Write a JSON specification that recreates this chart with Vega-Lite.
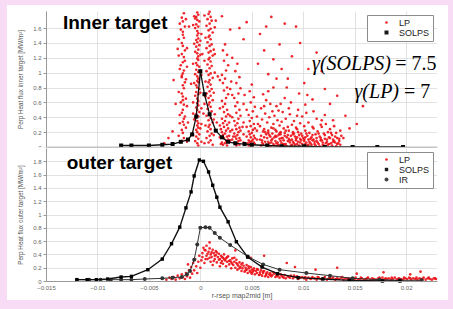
{
"$schema": "https://vega.github.io/schema/vega-lite/v6.json",
"background": "#f8dcf6",
"padding": {"left": 7, "top": 5, "right": 5, "bottom": 9},
"bounds": "flush",
"spacing": 1,
"resolve": {"scale": {"color": "independent", "shape": "independent", "size": "independent"}, "legend": {"color": "independent", "shape": "independent", "size": "independent"}},
"config": {
  "view": {"stroke": null, "fill": "white"},
  "font": "Liberation Sans",
  "axis": {"labelFont": "Liberation Sans", "labelFontSize": 6, "labelColor": "#666", "titleFont": "Liberation Sans", "titleFontSize": 6.3, "titleFontWeight": "normal", "titleColor": "#555", "gridColor": "#dadada", "gridWidth": 0.8, "tickColor": "#999", "domainColor": "#999", "labelOverlap": false},
  "legend": {"orient": "top-right", "offset": 4, "padding": 3, "fillColor": "white", "strokeColor": "#8c8c8c", "labelFontSize": 9, "labelFont": "Liberation Sans", "labelColor": "#222", "symbolOffset": 12, "labelOffset": 8, "rowPadding": 0, "symbolStrokeWidth": 0}
},
"datasets": {
"lpIn": [
{"x":-0.0016,"y":1.8},{"x":-0.0018,"y":1.74},{"x":-0.0017,"y":1.69},{"x":-0.0015,"y":1.62},{"x":-0.0019,"y":1.58},{"x":-0.0017,"y":1.51},{"x":-0.0016,"y":1.47},{"x":-0.0018,"y":1.4},{"x":-0.0017,"y":1.36},{"x":-0.0015,"y":1.3},{"x":-0.0018,"y":1.25},{"x":-0.0016,"y":1.21},{"x":-0.0017,"y":1.14},{"x":-0.0019,"y":1.1},{"x":-0.0016,"y":1.03},{"x":-0.0017,"y":0.99},{"x":-0.0018,"y":0.94},{"x":-0.0015,"y":0.87},{"x":-0.0017,"y":0.83},{"x":-0.0016,"y":0.79},{"x":-0.0018,"y":0.72},{"x":-0.0017,"y":0.68},{"x":-0.0019,"y":0.6},{"x":-0.0016,"y":0.57},{"x":-0.0017,"y":0.5},{"x":-0.0018,"y":0.46},{"x":-0.0015,"y":0.41},{"x":-0.0017,"y":0.34},{"x":-0.0016,"y":0.3},{"x":-0.0018,"y":0.23},{"x":-0.0017,"y":0.19},{"x":-0.0016,"y":0.12},{"x":-0.0018,"y":0.08},{"x":-0.0017,"y":0.63},{"x":-0.0015,"y":1.16},{"x":-0.0018,"y":0.96},{"x":-0.0016,"y":0.38},{"x":-0.0017,"y":1.55},
{"x":-0.0021,"y":1.45},{"x":-0.0013,"y":1.33},{"x":-0.002,"y":1.05},{"x":-0.0014,"y":0.91},{"x":-0.0021,"y":0.74},{"x":-0.0013,"y":0.55},{"x":-0.002,"y":0.43},{"x":-0.0014,"y":0.26},{"x":-0.0021,"y":0.15},{"x":-0.0013,"y":0.07},{"x":-0.002,"y":1.66},{"x":-0.0014,"y":1.72},{"x":-0.0021,"y":1.23},{"x":-0.0013,"y":1.08},{"x":-0.002,"y":0.32},{"x":-0.0014,"y":0.65},
{"x":-0.0003,"y":1.81},{"x":-0.0002,"y":1.78},{"x":-0.0004,"y":1.75},{"x":-0.0003,"y":1.71},{"x":-0.0001,"y":1.69},{"x":-0.0004,"y":1.65},{"x":-0.0002,"y":1.62},{"x":-0.0005,"y":1.6},{"x":-0.0003,"y":1.56},{"x":-0.0002,"y":1.53},{"x":-0.0003,"y":1.5},{"x":-0.0002,"y":1.46},{"x":-0.0004,"y":1.44},{"x":-0.0003,"y":1.41},{"x":-0.0001,"y":1.37},{"x":-0.0004,"y":1.35},{"x":-0.0002,"y":1.31},{"x":-0.0005,"y":1.28},{"x":-0.0003,"y":1.26},{"x":-0.0002,"y":1.22},{"x":-0.0003,"y":1.19},{"x":-0.0002,"y":1.17},{"x":-0.0004,"y":1.13},{"x":-0.0003,"y":1.1},{"x":-0.0001,"y":1.08},{"x":-0.0004,"y":1.04},{"x":-0.0002,"y":1.01},{"x":-0.0005,"y":0.98},{"x":-0.0003,"y":0.95},{"x":-0.0002,"y":0.92},{"x":-0.0003,"y":0.89},{"x":-0.0002,"y":0.87},{"x":-0.0004,"y":0.83},{"x":-0.0003,"y":0.8},{"x":-0.0001,"y":0.78},{"x":-0.0004,"y":0.74},{"x":-0.0002,"y":0.71},{"x":-0.0005,"y":0.69},{"x":-0.0003,"y":0.65},{"x":-0.0002,"y":0.62},{"x":-0.0003,"y":0.59},{"x":-0.0002,"y":0.56},{"x":-0.0004,"y":0.53},{"x":-0.0003,"y":0.5},{"x":-0.0001,"y":0.47},{"x":-0.0004,"y":0.44},{"x":-0.0002,"y":0.41},{"x":-0.0005,"y":0.39},{"x":-0.0003,"y":0.35},{"x":-0.0002,"y":0.32},{"x":-0.0003,"y":0.29},{"x":-0.0002,"y":0.26},{"x":-0.0004,"y":0.23},{"x":-0.0003,"y":0.2},{"x":-0.0001,"y":0.17},{"x":-0.0004,"y":0.14},{"x":-0.0002,"y":0.11},{"x":-0.0005,"y":0.08},{"x":-0.0003,"y":0.05},{"x":-0.0002,"y":0.02},
{"x":-0.0007,"y":1.64},{"x":0.0001,"y":1.52},{"x":-0.0006,"y":1.39},{"x":0.0,"y":1.24},{"x":-0.0007,"y":1.12},{"x":0.0001,"y":0.97},{"x":-0.0006,"y":0.86},{"x":0.0,"y":0.73},{"x":-0.0007,"y":0.6},{"x":0.0001,"y":0.52},{"x":-0.0006,"y":0.37},{"x":0.0,"y":0.25},{"x":-0.0007,"y":0.16},{"x":0.0001,"y":0.07},{"x":-0.0006,"y":1.76},{"x":0.0,"y":1.43},{"x":-0.0007,"y":0.45},{"x":0.0001,"y":0.31},
{"x":0.0009,"y":1.82},{"x":0.0008,"y":1.79},{"x":0.001,"y":1.75},{"x":0.0007,"y":1.72},{"x":0.0011,"y":1.7},{"x":0.0009,"y":1.66},{"x":0.0006,"y":1.63},{"x":0.001,"y":1.59},{"x":0.0008,"y":1.57},{"x":0.0012,"y":1.54},{"x":0.0009,"y":1.5},{"x":0.0008,"y":1.48},{"x":0.001,"y":1.45},{"x":0.0007,"y":1.41},{"x":0.0011,"y":1.38},{"x":0.0009,"y":1.36},{"x":0.0006,"y":1.33},{"x":0.001,"y":1.29},{"x":0.0008,"y":1.27},{"x":0.0012,"y":1.23},{"x":0.0009,"y":1.2},{"x":0.0008,"y":1.18},{"x":0.001,"y":1.15},{"x":0.0007,"y":1.11},{"x":0.0011,"y":1.09},{"x":0.0009,"y":1.06},{"x":0.0006,"y":1.02},{"x":0.001,"y":0.99},{"x":0.0008,"y":0.97},{"x":0.0012,"y":0.93},{"x":0.0009,"y":0.9},{"x":0.0008,"y":0.87},{"x":0.001,"y":0.84},{"x":0.0007,"y":0.81},{"x":0.0011,"y":0.78},{"x":0.0009,"y":0.75},{"x":0.0006,"y":0.72},{"x":0.001,"y":0.69},{"x":0.0008,"y":0.66},{"x":0.0012,"y":0.63},{"x":0.0009,"y":0.6},{"x":0.0008,"y":0.57},{"x":0.001,"y":0.54},{"x":0.0007,"y":0.51},{"x":0.0011,"y":0.48},{"x":0.0009,"y":0.45},{"x":0.0006,"y":0.42},{"x":0.001,"y":0.39},{"x":0.0008,"y":0.36},{"x":0.0012,"y":0.33},{"x":0.0009,"y":0.3},{"x":0.0008,"y":0.27},{"x":0.001,"y":0.24},{"x":0.0007,"y":0.21},{"x":0.0011,"y":0.18},{"x":0.0009,"y":0.15},{"x":0.0006,"y":0.12},{"x":0.001,"y":0.09},{"x":0.0008,"y":0.06},{"x":0.0012,"y":0.03},
{"x":0.0004,"y":1.77},{"x":0.0014,"y":1.61},{"x":0.0005,"y":1.47},{"x":0.0013,"y":1.31},{"x":0.0004,"y":1.16},{"x":0.0014,"y":1.0},{"x":0.0005,"y":0.88},{"x":0.0013,"y":0.73},{"x":0.0004,"y":0.58},{"x":0.0014,"y":0.44},{"x":0.0005,"y":0.29},{"x":0.0013,"y":0.16},{"x":0.0004,"y":0.05},{"x":0.0014,"y":1.25},{"x":0.0005,"y":0.68},{"x":0.0013,"y":0.37},
{"x":0.0024,"y":1.38},{"x":0.0022,"y":1.3},{"x":0.0026,"y":1.24},{"x":0.0023,"y":1.16},{"x":0.0027,"y":1.1},{"x":0.0025,"y":1.03},{"x":0.0021,"y":0.97},{"x":0.0024,"y":0.92},{"x":0.0022,"y":0.86},{"x":0.0026,"y":0.8},{"x":0.0023,"y":0.76},{"x":0.0027,"y":0.71},{"x":0.0025,"y":0.66},{"x":0.0021,"y":0.62},{"x":0.0024,"y":0.58},{"x":0.0022,"y":0.54},{"x":0.0026,"y":0.5},{"x":0.0023,"y":0.47},{"x":0.0027,"y":0.44},{"x":0.0025,"y":0.41},{"x":0.0021,"y":0.38},{"x":0.0024,"y":0.35},{"x":0.0022,"y":0.32},{"x":0.0026,"y":0.3},{"x":0.0023,"y":0.27},{"x":0.0027,"y":0.25},{"x":0.0025,"y":0.22},{"x":0.0021,"y":0.2},{"x":0.0024,"y":0.18},{"x":0.0022,"y":0.16},{"x":0.0026,"y":0.14},{"x":0.0023,"y":0.12},{"x":0.0027,"y":0.1},{"x":0.0025,"y":0.08},{"x":0.0021,"y":0.06},{"x":0.0024,"y":0.05},{"x":0.0022,"y":0.03},{"x":0.0026,"y":0.02},
{"x":0.0019,"y":0.9},{"x":0.0029,"y":0.78},{"x":0.0019,"y":0.52},{"x":0.0029,"y":0.42},{"x":0.0019,"y":0.29},{"x":0.0029,"y":0.21},{"x":0.0019,"y":0.13},{"x":0.0029,"y":0.09},{"x":0.002,"y":0.04},{"x":0.0028,"y":0.33},{"x":0.002,"y":0.24},{"x":0.0028,"y":0.15},
{"x":0.0036,"y":1.12},{"x":0.0034,"y":1.02},{"x":0.0038,"y":0.94},{"x":0.0035,"y":0.86},{"x":0.0039,"y":0.79},{"x":0.0037,"y":0.72},{"x":0.0033,"y":0.66},{"x":0.0036,"y":0.6},{"x":0.0034,"y":0.55},{"x":0.0038,"y":0.5},{"x":0.0035,"y":0.46},{"x":0.0039,"y":0.42},{"x":0.0037,"y":0.38},{"x":0.0033,"y":0.35},{"x":0.0036,"y":0.32},{"x":0.0034,"y":0.29},{"x":0.0038,"y":0.26},{"x":0.0035,"y":0.24},{"x":0.0039,"y":0.22},{"x":0.0037,"y":0.2},{"x":0.0033,"y":0.18},{"x":0.0036,"y":0.16},{"x":0.0034,"y":0.14},{"x":0.0038,"y":0.12},{"x":0.0035,"y":0.11},{"x":0.0039,"y":0.09},{"x":0.0037,"y":0.08},{"x":0.0033,"y":0.06},{"x":0.0036,"y":0.05},{"x":0.0034,"y":0.04},{"x":0.0038,"y":0.03},{"x":0.0035,"y":0.02},
{"x":0.0031,"y":0.7},{"x":0.0042,"y":0.58},{"x":0.0031,"y":0.4},{"x":0.0042,"y":0.33},{"x":0.0031,"y":0.23},{"x":0.0042,"y":0.17},{"x":0.0031,"y":0.1},{"x":0.0042,"y":0.06},{"x":0.0041,"y":0.27},{"x":0.0032,"y":0.14},
{"x":0.005,"y":0.84},{"x":0.0048,"y":0.75},{"x":0.0052,"y":0.67},{"x":0.0049,"y":0.6},{"x":0.0053,"y":0.54},{"x":0.0051,"y":0.48},{"x":0.0047,"y":0.43},{"x":0.005,"y":0.39},{"x":0.0048,"y":0.35},{"x":0.0052,"y":0.31},{"x":0.0049,"y":0.28},{"x":0.0053,"y":0.25},{"x":0.0051,"y":0.23},{"x":0.0047,"y":0.21},{"x":0.005,"y":0.19},{"x":0.0048,"y":0.17},{"x":0.0052,"y":0.15},{"x":0.0049,"y":0.13},{"x":0.0053,"y":0.12},{"x":0.0051,"y":0.1},{"x":0.0047,"y":0.09},{"x":0.005,"y":0.08},{"x":0.0048,"y":0.07},{"x":0.0052,"y":0.06},{"x":0.0049,"y":0.05},{"x":0.0053,"y":0.04},{"x":0.0051,"y":0.03},{"x":0.0047,"y":0.02},
{"x":0.0045,"y":0.5},{"x":0.0055,"y":0.41},{"x":0.0045,"y":0.27},{"x":0.0055,"y":0.22},{"x":0.0045,"y":0.14},{"x":0.0055,"y":0.1},{"x":0.0046,"y":0.05},{"x":0.0056,"y":0.31},
{"x":0.0059,"y":0.02},{"x":0.006,"y":0.06},{"x":0.0058,"y":0.1},{"x":0.0059,"y":0.15},{"x":0.0061,"y":0.21},{"x":0.0058,"y":0.28},{"x":0.006,"y":0.37},{"x":0.0059,"y":0.52},{"x":0.0061,"y":0.71},
{"x":0.0064,"y":0.03},{"x":0.0063,"y":0.07},{"x":0.0065,"y":0.12},{"x":0.0064,"y":0.17},{"x":0.0062,"y":0.24},{"x":0.0065,"y":0.33},{"x":0.0063,"y":0.45},{"x":0.0064,"y":0.63},{"x":0.0066,"y":0.98},
{"x":0.0068,"y":0.01},{"x":0.0067,"y":0.05},{"x":0.0069,"y":0.09},{"x":0.0068,"y":0.14},{"x":0.0066,"y":0.19},{"x":0.0069,"y":0.26},{"x":0.0067,"y":0.4},{"x":0.0068,"y":0.58},
{"x":0.0072,"y":0.02},{"x":0.0071,"y":0.04},{"x":0.0073,"y":0.08},{"x":0.0072,"y":0.13},{"x":0.007,"y":0.18},{"x":0.0073,"y":0.23},{"x":0.0071,"y":0.31},{"x":0.0072,"y":0.42},{"x":0.0074,"y":0.55},{"x":0.0071,"y":0.8},
{"x":0.0076,"y":0.03},{"x":0.0075,"y":0.06},{"x":0.0077,"y":0.11},{"x":0.0076,"y":0.16},{"x":0.0074,"y":0.21},{"x":0.0077,"y":0.29},{"x":0.0075,"y":0.36},{"x":0.0076,"y":0.49},
{"x":0.008,"y":0.02},{"x":0.0079,"y":0.05},{"x":0.0081,"y":0.09},{"x":0.008,"y":0.12},{"x":0.0078,"y":0.17},{"x":0.0081,"y":0.25},{"x":0.0079,"y":0.34},{"x":0.008,"y":0.47},{"x":0.0082,"y":0.66},{"x":0.0079,"y":1.05},
{"x":0.0084,"y":0.01},{"x":0.0083,"y":0.04},{"x":0.0085,"y":0.08},{"x":0.0084,"y":0.13},{"x":0.0082,"y":0.19},{"x":0.0085,"y":0.27},{"x":0.0083,"y":0.38},
{"x":0.0088,"y":0.02},{"x":0.0087,"y":0.06},{"x":0.0089,"y":0.1},{"x":0.0088,"y":0.15},{"x":0.0086,"y":0.22},{"x":0.0089,"y":0.3},{"x":0.0087,"y":0.44},{"x":0.0088,"y":0.6},
{"x":0.0092,"y":0.03},{"x":0.0091,"y":0.05},{"x":0.0093,"y":0.09},{"x":0.0092,"y":0.14},{"x":0.009,"y":0.2},{"x":0.0093,"y":0.26},{"x":0.0091,"y":0.35},
{"x":0.0096,"y":0.02},{"x":0.0095,"y":0.07},{"x":0.0097,"y":0.11},{"x":0.0096,"y":0.16},{"x":0.0094,"y":0.24},{"x":0.0097,"y":0.32},{"x":0.0095,"y":0.5},{"x":0.0096,"y":0.72},
{"x":0.01,"y":0.01},{"x":0.0099,"y":0.04},{"x":0.0101,"y":0.08},{"x":0.01,"y":0.12},{"x":0.0098,"y":0.18},{"x":0.0101,"y":0.28},{"x":0.0099,"y":0.41},
{"x":0.0104,"y":0.02},{"x":0.0103,"y":0.06},{"x":0.0105,"y":0.1},{"x":0.0104,"y":0.15},{"x":0.0102,"y":0.22},{"x":0.0105,"y":0.33},{"x":0.0103,"y":0.46},
{"x":0.0108,"y":0.03},{"x":0.0107,"y":0.05},{"x":0.0109,"y":0.09},{"x":0.0108,"y":0.13},{"x":0.0106,"y":0.19},{"x":0.0109,"y":0.27},
{"x":0.0112,"y":0.02},{"x":0.0111,"y":0.07},{"x":0.0113,"y":0.12},{"x":0.0112,"y":0.17},{"x":0.011,"y":0.25},{"x":0.0113,"y":0.38},
{"x":0.0116,"y":0.01},{"x":0.0115,"y":0.04},{"x":0.0117,"y":0.09},{"x":0.0116,"y":0.14},{"x":0.0114,"y":0.21},{"x":0.0117,"y":0.3},
{"x":0.012,"y":0.02},{"x":0.0119,"y":0.06},{"x":0.0121,"y":0.11},{"x":0.012,"y":0.18},{"x":0.0118,"y":0.27},{"x":0.0121,"y":0.43},
{"x":0.0124,"y":0.03},{"x":0.0123,"y":0.07},{"x":0.0125,"y":0.13},{"x":0.0124,"y":0.2},{"x":0.0122,"y":0.31},
{"x":0.0128,"y":0.02},{"x":0.0127,"y":0.05},{"x":0.0129,"y":0.1},{"x":0.0128,"y":0.16},{"x":0.0126,"y":0.24},{"x":0.0129,"y":0.36},
{"x":0.0132,"y":0.01},{"x":0.0131,"y":0.06},{"x":0.0133,"y":0.12},{"x":0.0132,"y":0.19},{"x":0.013,"y":0.28},
{"x":0.0136,"y":0.03},{"x":0.0135,"y":0.08},{"x":0.0137,"y":0.15},{"x":0.0136,"y":0.22},
{"x":0.0061,"y":0.04},{"x":0.0062,"y":0.13},{"x":0.0066,"y":0.07},{"x":0.0066,"y":0.22},{"x":0.007,"y":0.11},{"x":0.0074,"y":0.05},{"x":0.0074,"y":0.14},{"x":0.0078,"y":0.08},{"x":0.0078,"y":0.2},{"x":0.0082,"y":0.03},{"x":0.0082,"y":0.15},{"x":0.0086,"y":0.11},{"x":0.009,"y":0.07},{"x":0.009,"y":0.17},{"x":0.0094,"y":0.04},{"x":0.0094,"y":0.13},{"x":0.0098,"y":0.09},{"x":0.0102,"y":0.04},{"x":0.0102,"y":0.13},{"x":0.0106,"y":0.07},{"x":0.011,"y":0.1},{"x":0.0114,"y":0.06},{"x":0.0118,"y":0.09},{"x":0.0122,"y":0.05},{"x":0.0126,"y":0.12},{"x":0.013,"y":0.08},{"x":0.0134,"y":0.05},
{"x":0.006,"y":0.09},{"x":0.0063,"y":0.2},{"x":0.0065,"y":0.03},{"x":0.0067,"y":0.16},{"x":0.0069,"y":0.06},{"x":0.0071,"y":0.25},{"x":0.0073,"y":0.15},{"x":0.0075,"y":0.02},{"x":0.0077,"y":0.18},{"x":0.0079,"y":0.12},{"x":0.0081,"y":0.04},{"x":0.0083,"y":0.22},{"x":0.0085,"y":0.16},{"x":0.0087,"y":0.09},{"x":0.0089,"y":0.03},{"x":0.0091,"y":0.18},{"x":0.0093,"y":0.11},{"x":0.0095,"y":0.2},{"x":0.0097,"y":0.06},{"x":0.0099,"y":0.15},{"x":0.0101,"y":0.1},{"x":0.0103,"y":0.18},{"x":0.0105,"y":0.03},{"x":0.0107,"y":0.11},{"x":0.0109,"y":0.16},{"x":0.0111,"y":0.04},{"x":0.0113,"y":0.08},{"x":0.0115,"y":0.18},{"x":0.0117,"y":0.12},{"x":0.0119,"y":0.03},{"x":0.0121,"y":0.16},{"x":0.0123,"y":0.1},{"x":0.0125,"y":0.04},{"x":0.0127,"y":0.19},{"x":0.0129,"y":0.07},{"x":0.0131,"y":0.14},{"x":0.0133,"y":0.04},{"x":0.0135,"y":0.11},{"x":0.0062,"y":0.55},{"x":0.007,"y":0.48},{"x":0.0078,"y":0.58},{"x":0.0086,"y":0.52},{"x":0.0094,"y":0.42},{"x":0.0102,"y":0.57},{"x":0.011,"y":0.48},{"x":0.0118,"y":0.36},{"x":0.0066,"y":0.75},{"x":0.0084,"y":0.8},{"x":0.0104,"y":0.7},{"x":0.0074,"y":0.92},
{"x":-0.0031,"y":0.12},{"x":-0.0027,"y":0.21},{"x":-0.0024,"y":0.58},{"x":-0.0035,"y":0.05},{"x":-0.0022,"y":1.32},{"x":-0.0026,"y":0.9},{"x":-0.0011,"y":1.62},{"x":-0.0009,"y":0.85},{"x":-0.0012,"y":0.33},{"x":0.0002,"y":1.25},{"x":0.0003,"y":0.45},{"x":0.0015,"y":1.7},{"x":0.0017,"y":0.95},{"x":0.0016,"y":0.33},{"x":0.0029,"y":1.58},{"x":0.003,"y":0.88},{"x":0.0031,"y":1.2},{"x":0.0042,"y":1.45},{"x":0.0043,"y":0.7},{"x":0.0045,"y":1.68},{"x":0.0056,"y":1.12},{"x":0.0058,"y":1.52},{"x":0.0062,"y":1.3},{"x":0.0069,"y":1.75},{"x":0.0071,"y":1.18},{"x":0.0077,"y":1.38},{"x":0.0085,"y":0.92},{"x":0.0089,"y":1.22},{"x":0.0093,"y":1.62},{"x":0.0101,"y":0.86},{"x":0.0105,"y":1.05},{"x":0.0109,"y":0.64},{"x":0.0113,"y":1.27},{"x":0.0121,"y":0.78},{"x":0.0126,"y":0.58},{"x":0.0133,"y":0.69},{"x":0.0141,"y":0.42},{"x":0.0145,"y":0.25},{"x":0.0139,"y":0.12},{"x":0.0152,"y":0.31},{"x":0.0038,"y":1.6},{"x":0.0064,"y":1.62},{"x":0.0082,"y":1.66},{"x":0.0097,"y":1.4},{"x":-0.0005,"y":1.73},{"x":0.0021,"y":1.76},{"x":0.0118,"y":1.02},{"x":0.0158,"y":0.55}
],
"solpsIn": [
{"x":-0.0077,"y":0.02},{"x":-0.0067,"y":0.02},{"x":-0.005,"y":0.02},{"x":-0.0037,"y":0.03},{"x":-0.0027,"y":0.04},{"x":-0.0019,"y":0.07},{"x":-0.0012,"y":0.1},{"x":-0.0008,"y":0.17},{"x":-0.0004,"y":0.41},{"x":0.0,"y":1.02},{"x":0.0004,"y":0.71},{"x":0.0009,"y":0.44},{"x":0.0015,"y":0.22},{"x":0.0021,"y":0.13},{"x":0.0027,"y":0.07},{"x":0.0034,"y":0.05},{"x":0.0043,"y":0.04},{"x":0.005,"y":0.03},{"x":0.0065,"y":0.02},{"x":0.0079,"y":0.01},{"x":0.0101,"y":0.01},{"x":0.0121,"y":0.0},{"x":0.0148,"y":0.0},{"x":0.0172,"y":0.0},{"x":0.0197,"y":0.0}
],
"lpOut": [
{"x":-0.0033,"y":0.02},{"x":-0.003,"y":0.05},{"x":-0.0028,"y":0.03},{"x":-0.0026,"y":0.06},{"x":-0.0024,"y":0.02},{"x":-0.0022,"y":0.08},{"x":-0.002,"y":0.04},{"x":-0.0018,"y":0.1},{"x":-0.0017,"y":0.06},{"x":-0.0015,"y":0.03},{"x":-0.0014,"y":0.12},{"x":-0.0013,"y":0.07},{"x":-0.0011,"y":0.16},{"x":-0.001,"y":0.05},{"x":-0.0009,"y":0.21},{"x":-0.0008,"y":0.11},{"x":-0.0007,"y":0.27},{"x":-0.0006,"y":0.16},{"x":-0.0005,"y":0.33},{"x":-0.0004,"y":0.22},{"x":-0.0003,"y":0.12},{"x":-0.0002,"y":0.29},{"x":-0.0001,"y":0.38},{"x":0.0,"y":0.2},
{"x":0.0001,"y":0.31},{"x":0.0002,"y":0.42},{"x":0.0003,"y":0.5},{"x":0.0004,"y":0.27},{"x":0.0005,"y":0.46},{"x":0.0006,"y":0.38},{"x":0.0006,"y":0.53},{"x":0.0007,"y":0.33},{"x":0.0008,"y":0.44},{"x":0.0009,"y":0.49},{"x":0.001,"y":0.29},{"x":0.001,"y":0.4},{"x":0.0011,"y":0.36},{"x":0.0012,"y":0.47},{"x":0.0012,"y":0.24},{"x":0.0013,"y":0.42},{"x":0.0014,"y":0.33},{"x":0.0015,"y":0.39},{"x":0.0015,"y":0.45},{"x":0.0016,"y":0.28},{"x":0.0017,"y":0.36},{"x":0.0018,"y":0.41},{"x":0.0019,"y":0.22},{"x":0.0019,"y":0.33},{"x":0.002,"y":0.38},{"x":0.0021,"y":0.3},{"x":0.0022,"y":0.35},{"x":0.0022,"y":0.26},{"x":0.0023,"y":0.4},{"x":0.0024,"y":0.31},{"x":0.0025,"y":0.22},{"x":0.0025,"y":0.34},{"x":0.0026,"y":0.29},{"x":0.0027,"y":0.37},{"x":0.0028,"y":0.25},{"x":0.0029,"y":0.31},{"x":0.003,"y":0.19},{"x":0.003,"y":0.28},{"x":0.0031,"y":0.34},{"x":0.0032,"y":0.24},{"x":0.0033,"y":0.29},{"x":0.0034,"y":0.2},{"x":0.0035,"y":0.27},{"x":0.0035,"y":0.32},{"x":0.0036,"y":0.17},{"x":0.0037,"y":0.23},{"x":0.0038,"y":0.28},{"x":0.0039,"y":0.21},{"x":0.004,"y":0.15},{"x":0.004,"y":0.25},{"x":0.0041,"y":0.19},{"x":0.0042,"y":0.23},{"x":0.0043,"y":0.14},{"x":0.0044,"y":0.2},{"x":0.0045,"y":0.17},{"x":0.0045,"y":0.24},{"x":0.0046,"y":0.12},{"x":0.0047,"y":0.19},{"x":0.0048,"y":0.15},{"x":0.0049,"y":0.21},{"x":0.005,"y":0.11},{"x":0.005,"y":0.17},{"x":0.0051,"y":0.14},{"x":0.0052,"y":0.19},{"x":0.0053,"y":0.1},{"x":0.0054,"y":0.15},{"x":0.0055,"y":0.12},{"x":0.0056,"y":0.17},{"x":0.0057,"y":0.09},{"x":0.0058,"y":0.13},{"x":0.0059,"y":0.16},{"x":0.006,"y":0.08},{"x":0.0061,"y":0.12},{"x":0.0062,"y":0.15},{"x":0.0063,"y":0.07},{"x":0.0064,"y":0.11},{"x":0.0065,"y":0.13},{"x":0.0066,"y":0.06},{"x":0.0067,"y":0.1},{"x":0.0068,"y":0.12},{"x":0.0069,"y":0.07},{"x":0.007,"y":0.09},{"x":0.0072,"y":0.11},{"x":0.0073,"y":0.06},{"x":0.0074,"y":0.08},{"x":0.0076,"y":0.1},{"x":0.0077,"y":0.05},{"x":0.0079,"y":0.08},{"x":0.008,"y":0.06},{"x":0.0082,"y":0.09},{"x":0.0083,"y":0.04},{"x":0.0085,"y":0.07},{"x":0.0087,"y":0.05},{"x":0.0088,"y":0.08},{"x":0.009,"y":0.04},{"x":0.0092,"y":0.06},{"x":0.0094,"y":0.07},{"x":0.0095,"y":0.03},{"x":0.0097,"y":0.05},{"x":0.0099,"y":0.06},{"x":0.0101,"y":0.04},{"x":0.0103,"y":0.02},{"x":0.0105,"y":0.05},{"x":0.0107,"y":0.03},{"x":0.0109,"y":0.06},{"x":0.0111,"y":0.04},{"x":0.0113,"y":0.02},{"x":0.0115,"y":0.05},{"x":0.0117,"y":0.03},{"x":0.0119,"y":0.04},{"x":0.0121,"y":0.06},{"x":0.0123,"y":0.02},{"x":0.0125,"y":0.04},{"x":0.0127,"y":0.03},{"x":0.0129,"y":0.05},{"x":0.0131,"y":0.02},{"x":0.0133,"y":0.04},{"x":0.0135,"y":0.03},{"x":0.0137,"y":0.05},{"x":0.0139,"y":0.02},{"x":0.0141,"y":0.04},{"x":0.0143,"y":0.03},{"x":0.0145,"y":0.02},{"x":0.0147,"y":0.04},{"x":0.0149,"y":0.03},{"x":0.0151,"y":0.05},{"x":0.0153,"y":0.02},{"x":0.0155,"y":0.03},{"x":0.0157,"y":0.04},{"x":0.0159,"y":0.02},{"x":0.0161,"y":0.03},{"x":0.0163,"y":0.05},{"x":0.0165,"y":0.02},{"x":0.0167,"y":0.04},{"x":0.0169,"y":0.03},{"x":0.0171,"y":0.02},{"x":0.0173,"y":0.04},{"x":0.0175,"y":0.03},{"x":0.0177,"y":0.05},{"x":0.0179,"y":0.02},{"x":0.0181,"y":0.03},{"x":0.0183,"y":0.04},{"x":0.0185,"y":0.02},{"x":0.0187,"y":0.03},{"x":0.0189,"y":0.05},{"x":0.0191,"y":0.02},{"x":0.0193,"y":0.04},{"x":0.0195,"y":0.03},{"x":0.0197,"y":0.02},{"x":0.0199,"y":0.04},{"x":0.0201,"y":0.03},{"x":0.0203,"y":0.05},{"x":0.0205,"y":0.02},{"x":0.0207,"y":0.04},{"x":0.0209,"y":0.03},{"x":0.0211,"y":0.02},{"x":0.0213,"y":0.04},{"x":0.0215,"y":0.03},{"x":0.0217,"y":0.05},{"x":0.0219,"y":0.02},{"x":0.0221,"y":0.04},{"x":0.0223,"y":0.03},{"x":0.0225,"y":0.02},{"x":0.0227,"y":0.04},{"x":0.0229,"y":0.03},
{"x":0.0002,"y":0.36},{"x":0.0004,"y":0.47},{"x":0.0005,"y":0.33},{"x":0.0007,"y":0.41},{"x":0.0009,"y":0.35},{"x":0.0011,"y":0.43},{"x":0.0013,"y":0.3},{"x":0.0014,"y":0.38},{"x":0.0016,"y":0.43},{"x":0.0018,"y":0.32},{"x":0.002,"y":0.27},{"x":0.0021,"y":0.36},{"x":0.0023,"y":0.33},{"x":0.0026,"y":0.36},{"x":0.0028,"y":0.3},{"x":0.0031,"y":0.26},{"x":0.0033,"y":0.35},{"x":0.0036,"y":0.25},{"x":0.0038,"y":0.19},{"x":0.0041,"y":0.27},{"x":0.0044,"y":0.16},{"x":0.0047,"y":0.22},{"x":0.0049,"y":0.13},{"x":0.0052,"y":0.16},{"x":0.0055,"y":0.18},{"x":0.0058,"y":0.1},{"x":0.0061,"y":0.14},{"x":0.0064,"y":0.09},{"x":0.0068,"y":0.09},{"x":0.0071,"y":0.13},{"x":0.0075,"y":0.07},{"x":0.0078,"y":0.1},{"x":0.0081,"y":0.05},{"x":0.0086,"y":0.06},{"x":0.0091,"y":0.08},{"x":0.0096,"y":0.05},{"x":0.0102,"y":0.06},{"x":0.0108,"y":0.04},{"x":0.0114,"y":0.06},{"x":0.012,"y":0.03},{"x":0.0126,"y":0.05},{"x":0.0132,"y":0.03},{"x":0.0138,"y":0.06},{"x":0.0144,"y":0.04},{"x":0.015,"y":0.03},{"x":0.0156,"y":0.05},{"x":0.0162,"y":0.04},{"x":0.0168,"y":0.02},{"x":0.0174,"y":0.05},{"x":0.018,"y":0.04},{"x":0.0186,"y":0.05},{"x":0.0192,"y":0.03},{"x":0.0198,"y":0.05},{"x":0.0204,"y":0.04},{"x":0.021,"y":0.05},{"x":0.0216,"y":0.03},{"x":0.0222,"y":0.05},{"x":0.0228,"y":0.04},
{"x":0.0062,"y":0.38},{"x":0.0084,"y":0.27},{"x":0.0112,"y":0.17},{"x":0.0133,"y":0.2},{"x":0.0152,"y":0.11},{"x":0.0178,"y":0.13},{"x":0.0204,"y":0.1},{"x":0.0214,"y":0.14},{"x":0.0092,"y":0.21},{"x":0.0049,"y":0.35},{"x":0.0034,"y":0.46},{"x":0.0009,"y":0.58},{"x":-0.0012,"y":0.25}
],
"solpsOut": [
{"x":-0.012,"y":0.02},{"x":-0.011,"y":0.02},{"x":-0.0101,"y":0.02},{"x":-0.009,"y":0.03},{"x":-0.0077,"y":0.06},{"x":-0.0067,"y":0.07},{"x":-0.0051,"y":0.17},{"x":-0.0037,"y":0.33},{"x":-0.0028,"y":0.56},{"x":-0.002,"y":0.81},{"x":-0.0014,"y":1.1},{"x":-0.0009,"y":1.34},{"x":-0.0006,"y":1.58},{"x":-0.0001,"y":1.82},{"x":0.0003,"y":1.8},{"x":0.0008,"y":1.64},{"x":0.0012,"y":1.44},{"x":0.0016,"y":1.26},{"x":0.0019,"y":1.11},{"x":0.0027,"y":0.89},{"x":0.0035,"y":0.59},{"x":0.0046,"y":0.36},{"x":0.006,"y":0.21},{"x":0.0075,"y":0.11},{"x":0.0095,"y":0.05},{"x":0.0119,"y":0.03},{"x":0.0145,"y":0.01},{"x":0.0177,"y":0.0},{"x":0.0194,"y":0.0}
],
"irOut": [
{"x":-0.012,"y":0.02},{"x":-0.0108,"y":0.02},{"x":-0.0097,"y":0.02},{"x":-0.0087,"y":0.02},{"x":-0.0077,"y":0.02},{"x":-0.0067,"y":0.02},{"x":-0.0054,"y":0.03},{"x":-0.0037,"y":0.04},{"x":-0.0027,"y":0.05},{"x":-0.0018,"y":0.06},{"x":-0.0013,"y":0.1},{"x":-0.001,"y":0.15},{"x":-0.0006,"y":0.32},{"x":-0.0003,"y":0.55},{"x":0.0,"y":0.8},{"x":0.0005,"y":0.81},{"x":0.0009,"y":0.8},{"x":0.0014,"y":0.72},{"x":0.0019,"y":0.65},{"x":0.0029,"y":0.54},{"x":0.0046,"y":0.37},{"x":0.0061,"y":0.25},{"x":0.0077,"y":0.17},{"x":0.0103,"y":0.12},{"x":0.0126,"y":0.08},{"x":0.0148,"y":0.04},{"x":0.0174,"y":0.02},{"x":0.0194,"y":0.01},{"x":0.0215,"y":0.01}
]
},
"vconcat": [
{
 "width": 391, "height": 136,
 "resolve": {"axis": {"x": "independent", "y": "independent"}},
 "layer": [
  {"data": {"values": [{}]}, "mark": {"type": "rect", "color": "white"},
   "encoding": {
    "x": {"datum": -0.01879, "type": "quantitative", "scale": {"domain": [-0.015, 0.023], "nice": false, "zero": false},
          "axis": {"orient": "bottom", "values": [-0.015,-0.01,-0.005,0,0.005,0.01,0.015,0.02], "labels": false, "ticks": false, "domain": false, "title": null, "grid": true, "zindex": 0}},
    "x2": {"datum": 0.02407},
    "y": {"datum": 1.9107, "type": "quantitative", "scale": {"domain": [0, 1.83], "nice": false, "zero": false},
          "axis": {"orient": "left", "values": [0,0.2,0.4,0.6,0.8,1,1.2,1.4,1.6], "labels": false, "ticks": false, "domain": false, "title": null, "grid": true, "zindex": 0}},
    "y2": {"datum": 1.83}
   }},
  {"data": {"values": [{}]}, "mark": {"type": "rect", "color": "white"},
   "encoding": {"x": {"datum": -0.01879, "type": "quantitative", "axis": null}, "x2": {"datum": 0.02407}, "y": {"datum": 0, "type": "quantitative", "axis": null}, "y2": {"datum": -0.027}}},
  {"data": {"values": [{}]}, "mark": {"type": "rect", "color": "white"},
   "encoding": {"x": {"datum": -0.01879, "type": "quantitative", "axis": null}, "x2": {"datum": -0.015}, "y": {"datum": 1.9107, "type": "quantitative", "axis": null}, "y2": {"datum": -0.027}}},
  {"data": {"values": [{}]}, "mark": {"type": "rect", "color": "white"},
   "encoding": {"x": {"datum": 0.023, "type": "quantitative", "axis": null}, "x2": {"datum": 0.02407}, "y": {"datum": 1.9107, "type": "quantitative", "axis": null}, "y2": {"datum": -0.027}}},
  {"data": {"name": "lpIn"}, "mark": {"type": "point", "filled": true, "opacity": 0.9},
   "encoding": {
    "x": {"field": "x", "type": "quantitative", "axis": {"orient": "bottom", "values": [-0.015,-0.01,-0.005,0,0.005,0.01,0.015,0.02], "labels": false, "ticks": false, "title": null, "grid": false, "domainColor": "#888", "domainWidth": 1.5, "zindex": 1}},
    "y": {"field": "y", "type": "quantitative", "axis": {"orient": "left", "values": [0,0.2,0.4,0.6,0.8,1,1.2,1.4,1.6], "format": "~g", "title": "Perp Heat flux inner target [MW/m²]", "grid": false, "tickSize": 3, "labelPadding": 2, "titlePadding": 9, "zindex": 1}},
    "color": {"datum": "LP", "type": "nominal", "scale": {"domain": ["LP", "SOLPS"], "range": ["#ec1016", "#000000"]}, "legend": {"title": null}},
    "shape": {"datum": "LP", "type": "nominal", "scale": {"domain": ["LP", "SOLPS"], "range": ["circle", "square"]}, "legend": {"title": null}},
    "size": {"datum": "LP", "type": "ordinal", "scale": {"domain": ["LP", "SOLPS"], "range": [7, 16]}, "legend": {"title": null}}
   }},
  {"data": {"name": "solpsIn"}, "mark": {"type": "line", "color": "#111111", "strokeWidth": 1.3},
   "encoding": {"x": {"field": "x", "type": "quantitative", "axis": null}, "y": {"field": "y", "type": "quantitative", "axis": null}}},
  {"data": {"name": "solpsIn"}, "mark": {"type": "point", "filled": true, "opacity": 1},
   "encoding": {
    "x": {"field": "x", "type": "quantitative", "axis": null},
    "y": {"field": "y", "type": "quantitative", "axis": null},
    "color": {"datum": "SOLPS", "type": "nominal"},
    "shape": {"datum": "SOLPS", "type": "nominal"},
    "size": {"datum": "SOLPS", "type": "ordinal"}
   }},
  {"data": {"values": [{"t": "Inner target"}]}, "mark": {"type": "text", "font": "Liberation Sans", "fontSize": 19, "fontWeight": "bold", "align": "left", "baseline": "alphabetic", "color": "#000"},
   "encoding": {"x": {"datum": -0.01335, "type": "quantitative", "axis": null}, "y": {"datum": 1.588, "type": "quantitative", "axis": null}, "text": {"field": "t"}}},
  {"data": {"values": [{"t": "γ(SOLPS)"}]}, "mark": {"type": "text", "font": "Liberation Serif", "fontSize": 20, "fontStyle": "italic", "align": "right", "baseline": "alphabetic", "color": "#000"},
   "encoding": {"x": {"datum": 0.01853, "type": "quantitative", "axis": null}, "y": {"datum": 1.036, "type": "quantitative", "axis": null}, "text": {"field": "t"}}},
  {"data": {"values": [{"t": "= 7.5"}]}, "mark": {"type": "text", "font": "Liberation Serif", "fontSize": 20, "align": "left", "baseline": "alphabetic", "color": "#000"},
   "encoding": {"x": {"datum": 0.01895, "type": "quantitative", "axis": null}, "y": {"datum": 1.036, "type": "quantitative", "axis": null}, "text": {"field": "t"}}},
  {"data": {"values": [{"t": "γ(LP)"}]}, "mark": {"type": "text", "font": "Liberation Serif", "fontSize": 20, "fontStyle": "italic", "align": "right", "baseline": "alphabetic", "color": "#000"},
   "encoding": {"x": {"datum": 0.01931, "type": "quantitative", "axis": null}, "y": {"datum": 0.659, "type": "quantitative", "axis": null}, "text": {"field": "t"}}},
  {"data": {"values": [{"t": "= 7"}]}, "mark": {"type": "text", "font": "Liberation Serif", "fontSize": 20, "align": "left", "baseline": "alphabetic", "color": "#000"},
   "encoding": {"x": {"datum": 0.0198, "type": "quantitative", "axis": null}, "y": {"datum": 0.659, "type": "quantitative", "axis": null}, "text": {"field": "t"}}}
 ]
},
{
 "width": 391, "height": 133,
 "resolve": {"axis": {"x": "independent", "y": "independent"}},
 "layer": [
  {"data": {"values": [{}]}, "mark": {"type": "rect", "color": "white"},
   "encoding": {
    "x": {"datum": -0.01879, "type": "quantitative", "scale": {"domain": [-0.015, 0.023], "nice": false, "zero": false},
          "axis": {"orient": "bottom", "values": [-0.015,-0.01,-0.005,0,0.005,0.01,0.015,0.02], "labels": false, "ticks": false, "domain": false, "title": null, "grid": true, "zindex": 0}},
    "x2": {"datum": 0.02407},
    "y": {"datum": 2.0075, "type": "quantitative", "scale": {"domain": [0, 2], "nice": false, "zero": false},
          "axis": {"orient": "left", "values": [0,0.2,0.4,0.6,0.8,1,1.2,1.4,1.6,1.8], "labels": false, "ticks": false, "domain": false, "title": null, "grid": true, "zindex": 0}},
    "y2": {"datum": 2}
   }},
  {"data": {"values": [{}]}, "mark": {"type": "rect", "color": "white"},
   "encoding": {"x": {"datum": -0.01879, "type": "quantitative", "axis": null}, "x2": {"datum": 0.02407}, "y": {"datum": 0, "type": "quantitative", "axis": null}, "y2": {"datum": -0.2857}}},
  {"data": {"values": [{}]}, "mark": {"type": "rect", "color": "white"},
   "encoding": {"x": {"datum": -0.01879, "type": "quantitative", "axis": null}, "x2": {"datum": -0.015}, "y": {"datum": 2.0075, "type": "quantitative", "axis": null}, "y2": {"datum": -0.2857}}},
  {"data": {"values": [{}]}, "mark": {"type": "rect", "color": "white"},
   "encoding": {"x": {"datum": 0.023, "type": "quantitative", "axis": null}, "x2": {"datum": 0.02407}, "y": {"datum": 2.0075, "type": "quantitative", "axis": null}, "y2": {"datum": -0.2857}}},
  {"data": {"name": "lpOut"}, "mark": {"type": "point", "filled": true, "opacity": 0.9},
   "encoding": {
    "x": {"field": "x", "type": "quantitative", "axis": {"orient": "bottom", "values": [-0.015,-0.01,-0.005,0,0.005,0.01,0.015,0.02], "format": "~g", "labelFlush": false, "ticks": false, "labelPadding": 3, "title": "r-rsep map2mid [m]", "titleFontSize": 7, "titlePadding": 1, "grid": false, "zindex": 1}},
    "y": {"field": "y", "type": "quantitative", "axis": {"orient": "left", "values": [0,0.2,0.4,0.6,0.8,1,1.2,1.4,1.6,1.8], "format": "~g", "title": "Perp Heat flux outer target [MW/m²]", "grid": false, "tickSize": 3, "labelPadding": 2, "titlePadding": 9, "zindex": 1}},
    "color": {"datum": "LP", "type": "nominal", "scale": {"domain": ["LP", "SOLPS", "IR"], "range": ["#ec1016", "#000000", "#333333"]}, "legend": {"title": null}},
    "shape": {"datum": "LP", "type": "nominal", "scale": {"domain": ["LP", "SOLPS", "IR"], "range": ["circle", "square", "circle"]}, "legend": {"title": null}},
    "size": {"datum": "LP", "type": "ordinal", "scale": {"domain": ["LP", "SOLPS", "IR"], "range": [7, 16, 7]}, "legend": {"title": null}}
   }},
  {"data": {"name": "irOut"}, "mark": {"type": "line", "color": "#333333", "strokeWidth": 1},
   "encoding": {"x": {"field": "x", "type": "quantitative", "axis": null}, "y": {"field": "y", "type": "quantitative", "axis": null}}},
  {"data": {"name": "irOut"}, "mark": {"type": "point", "filled": true, "opacity": 1},
   "encoding": {
    "x": {"field": "x", "type": "quantitative", "axis": null},
    "y": {"field": "y", "type": "quantitative", "axis": null},
    "color": {"datum": "IR", "type": "nominal"},
    "shape": {"datum": "IR", "type": "nominal"},
    "size": {"datum": "IR", "type": "ordinal"}
   }},
  {"data": {"name": "solpsOut"}, "mark": {"type": "line", "color": "#111111", "strokeWidth": 1.4},
   "encoding": {"x": {"field": "x", "type": "quantitative", "axis": null}, "y": {"field": "y", "type": "quantitative", "axis": null}}},
  {"data": {"name": "solpsOut"}, "mark": {"type": "point", "filled": true, "opacity": 1},
   "encoding": {
    "x": {"field": "x", "type": "quantitative", "axis": null},
    "y": {"field": "y", "type": "quantitative", "axis": null},
    "color": {"datum": "SOLPS", "type": "nominal"},
    "shape": {"datum": "SOLPS", "type": "nominal"},
    "size": {"datum": "SOLPS", "type": "ordinal"}
   }},
  {"data": {"values": [{"t": "outer target"}]}, "mark": {"type": "text", "font": "Liberation Sans", "fontSize": 19, "fontWeight": "bold", "align": "left", "baseline": "alphabetic", "color": "#000"},
   "encoding": {"x": {"datum": -0.01299, "type": "quantitative", "axis": null}, "y": {"datum": 1.684, "type": "quantitative", "axis": null}, "text": {"field": "t"}}}
 ]
}
]
}
